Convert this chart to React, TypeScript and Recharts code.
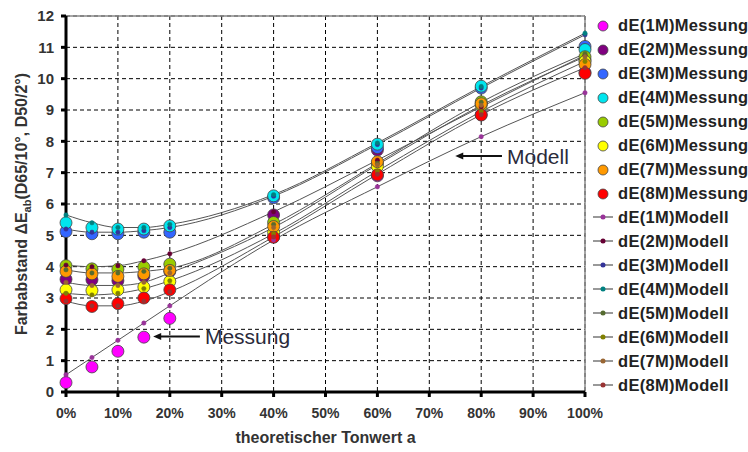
import React from "react";
import {
  ComposedChart,
  Line,
  XAxis,
  YAxis,
  CartesianGrid,
  Legend,
  ReferenceLine,
} from "recharts";

// theoretical tone value (%) at which the patches were measured
const tonwert = [0, 5, 10, 15, 20, 40, 60, 80, 100];
const xTicks = [0, 10, 20, 30, 40, 50, 60, 70, 80, 90, 100];
const yTicks = [0, 1, 2, 3, 4, 5, 6, 7, 8, 9, 10, 11, 12];

// measured dE
const mess1M = [0.3, 0.8, 1.3, 1.75, 2.35, 4.95, 6.9, 8.85, 10.2];
const mess2M = [3.6, 3.58, 3.55, 3.7, 3.85, 5.65, 7.72, 9.2, 10.6];
const mess3M = [5.12, 5.05, 5.05, 5.1, 5.1, 6.2, 7.8, 9.7, 11.03];
const mess4M = [5.4, 5.25, 5.2, 5.2, 5.3, 6.26, 7.91, 9.76, 10.93];
const mess5M = [4.03, 3.93, 3.92, 3.99, 4.08, 5.41, 7.3, 9.26, 10.7];
const mess6M = [3.26, 3.24, 3.26, 3.35, 3.53, 5.09, 7.2, 9.15, 10.55];
const mess7M = [3.85, 3.77, 3.69, 3.77, 3.88, 5.28, 7.35, 9.2, 10.45];
const mess8M = [2.98, 2.73, 2.82, 3.0, 3.26, 4.94, 6.93, 8.84, 10.17];

// model dE
const mod1M = [0.55, 1.1, 1.65, 2.2, 2.75, 4.85, 6.55, 8.15, 9.55];
const mod2M = [4.05, 4.0, 4.03, 4.19, 4.41, 5.75, 7.4, 9.1, 10.75];
const mod3M = [5.2, 5.1, 5.1, 5.15, 5.25, 6.25, 7.9, 9.7, 11.4];
const mod4M = [5.65, 5.4, 5.25, 5.25, 5.35, 6.3, 7.95, 9.75, 11.45];
const mod5M = [3.9, 3.8, 3.8, 3.85, 3.95, 5.35, 7.3, 9.25, 10.8];
const mod6M = [3.15, 3.1, 3.15, 3.3, 3.55, 5.05, 7.05, 8.95, 10.55];
const mod7M = [3.5, 3.4, 3.4, 3.5, 3.8, 5.25, 7.25, 9.15, 10.7];
const mod8M = [2.9, 2.75, 2.75, 2.9, 3.2, 4.95, 6.95, 8.85, 10.35];

const messung = [
  { key: "m1", name: "dE(1M)Messung", color: "#ff00ff", values: mess1M },
  { key: "m2", name: "dE(2M)Messung", color: "#800080", values: mess2M },
  { key: "m3", name: "dE(3M)Messung", color: "#3366ff", values: mess3M },
  { key: "m4", name: "dE(4M)Messung", color: "#00e5ee", values: mess4M },
  { key: "m5", name: "dE(5M)Messung", color: "#99cc00", values: mess5M },
  { key: "m6", name: "dE(6M)Messung", color: "#ffff00", values: mess6M },
  { key: "m7", name: "dE(7M)Messung", color: "#ff9900", values: mess7M },
  { key: "m8", name: "dE(8M)Messung", color: "#ff0000", values: mess8M },
];

const modell = [
  { key: "d1", name: "dE(1M)Modell", color: "#993399", values: mod1M },
  { key: "d2", name: "dE(2M)Modell", color: "#660033", values: mod2M },
  { key: "d3", name: "dE(3M)Modell", color: "#333399", values: mod3M },
  { key: "d4", name: "dE(4M)Modell", color: "#008080", values: mod4M },
  { key: "d5", name: "dE(5M)Modell", color: "#556b2f", values: mod5M },
  { key: "d6", name: "dE(6M)Modell", color: "#808000", values: mod6M },
  { key: "d7", name: "dE(7M)Modell", color: "#996633", values: mod7M },
  { key: "d8", name: "dE(8M)Modell", color: "#993333", values: mod8M },
];

const data = tonwert.map((x, i) => {
  const row: Record<string, number> = { x };
  [...messung, ...modell].forEach((s) => {
    row[s.key] = s.values[i];
  });
  return row;
});

const FONT = "'Liberation Sans', Arial, sans-serif";

function LegendBox() {
  const text = { marginLeft: 2, whiteSpace: "nowrap" as const, letterSpacing: 0.3 };
  const icon = { flexShrink: 0 };
  return (
    <div style={{ fontFamily: FONT, fontWeight: "bold", fontSize: 16.5, color: "#222" }}>
      {messung.map((s) => (
        <div key={s.key} style={{ display: "flex", alignItems: "center", height: 23.95 }}>
          <svg width={26} height={14} style={icon}>
            <circle cx={13} cy={7} r={5} fill={s.color} stroke="#444" strokeWidth={0.8} />
          </svg>
          <span style={text}>{s.name}</span>
        </div>
      ))}
      {modell.map((s) => (
        <div key={s.key} style={{ display: "flex", alignItems: "center", height: 23.95 }}>
          <svg width={26} height={14} style={icon}>
            <line x1={3} y1={7} x2={23} y2={7} stroke="#555" strokeWidth={1.2} />
            <circle cx={13} cy={7} r={2.5} fill={s.color} />
          </svg>
          <span style={text}>{s.name}</span>
        </div>
      ))}
    </div>
  );
}

function arrowShape(text: string) {
  return (p: any) => {
    const tail = Math.max(p.x1, p.x2);
    const head = Math.min(p.x1, p.x2);
    const y = p.y1;
    return (
      <g>
        <line x1={tail} y1={y} x2={head + 6} y2={y} stroke="#111" strokeWidth={2} />
        <polygon points={`${head},${y} ${head + 8},${y - 3.5} ${head + 8},${y + 3.5}`} fill="#111" />
        <text x={tail + 5} y={y + 7.5} fontFamily={FONT} fontSize={21} fill="#2a2a3a">
          {text}
        </text>
      </g>
    );
  };
}

function YTitle(props: any) {
  const vb = props.viewBox;
  const cy = vb.y + vb.height / 2;
  return (
    <text
      transform={`translate(27, ${cy}) rotate(-90)`}
      textAnchor="middle"
      fontFamily={FONT}
      fontWeight="bold"
      fontSize={16}
      fill="#333"
    >
      Farbabstand ΔE
      <tspan fontSize={11} dy={4}>ab</tspan>
      <tspan dy={-4}>(D65/10°, D50/2°)</tspan>
    </text>
  );
}

function XTitle(props: any) {
  const vb = props.viewBox;
  return (
    <text
      x={vb.x + vb.width / 2}
      y={443}
      textAnchor="middle"
      fontFamily={FONT}
      fontWeight="bold"
      fontSize={16}
      fill="#333"
    >
      theoretischer Tonwert a
    </text>
  );
}

export default function App() {
  return (
    <div style={{ position: "absolute", left: 0, top: 0, width: 748, height: 452, background: "#fff", overflow: "hidden" }}>
      <ComposedChart
        width={748}
        height={452}
        data={data}
        margin={{ top: 16, right: 163, bottom: 20, left: 16 }}
        style={{ fontFamily: FONT }}
      >
        <CartesianGrid stroke="#000" strokeDasharray="4 3" strokeWidth={1} />
        <XAxis
          dataKey="x"
          type="number"
          domain={[0, 100]}
          ticks={xTicks}
          tickFormatter={(v: number) => `${v}%`}
          axisLine={{ stroke: "#000", strokeWidth: 3 }}
          tickLine={{ stroke: "#000", strokeWidth: 3 }}
          tickSize={5}
          tickMargin={11}
          height={40}
          tick={{ fill: "#333", fontSize: 14, fontWeight: "bold" }}
          label={<XTitle />}
        />
        <YAxis
          type="number"
          domain={[0, 12]}
          ticks={yTicks}
          axisLine={{ stroke: "#000", strokeWidth: 3 }}
          tickLine={{ stroke: "#000", strokeWidth: 3 }}
          tickSize={5}
          tickMargin={7}
          width={50}
          tick={{ fill: "#333", fontSize: 15, fontWeight: "bold" }}
          label={<YTitle />}
        />
        <ReferenceLine y={12} stroke="#888" strokeWidth={1.5} />
        <ReferenceLine x={100} stroke="#888" strokeWidth={1.5} />
        {messung.map((s) => (
          <Line
            key={s.key}
            dataKey={s.key}
            name={s.name}
            stroke="none"
            dot={{ r: 6, fill: s.color, stroke: "#444", strokeWidth: 0.8 }}
            activeDot={false}
            isAnimationActive={false}
          />
        ))}
        {modell.map((s) => (
          <Line
            key={s.key}
            dataKey={s.key}
            name={s.name}
            type="monotone"
            stroke="#555"
            strokeWidth={1}
            dot={{ r: 2.2, fill: s.color, stroke: s.color, strokeWidth: 0.5 }}
            activeDot={false}
            isAnimationActive={false}
          />
        ))}
        <ReferenceLine
          segment={[
            { x: 25.8, y: 1.77 },
            { x: 16.8, y: 1.77 },
          ]}
          shape={arrowShape("Messung")}
        />
        <ReferenceLine
          segment={[
            { x: 84.0, y: 7.53 },
            { x: 75.0, y: 7.53 },
          ]}
          shape={arrowShape("Modell")}
        />
        <Legend
          layout="vertical"
          align="center"
          verticalAlign="middle"
          content={() => <LegendBox />}
          wrapperStyle={{ left: 590, top: 14, width: 158, height: 390 }}
        />
      </ComposedChart>
    </div>
  );
}
